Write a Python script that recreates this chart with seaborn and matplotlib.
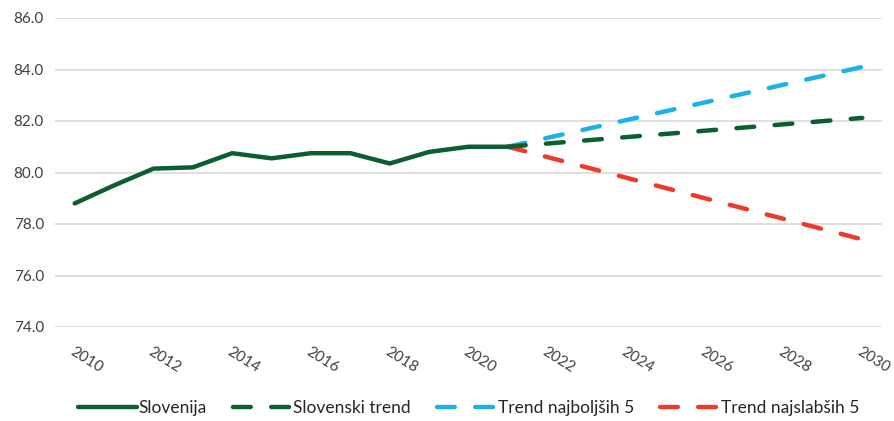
import pandas as pd
import matplotlib.pyplot as plt
import seaborn as sns

# Data
years = [2010, 2011, 2012, 2013, 2014, 2015, 2016, 2017, 2018, 2019, 2020, 2021]
slovenija = [78.8, 79.5, 80.15, 80.2, 80.75, 80.55, 80.75, 80.75, 80.35, 80.8, 81.0, 81.0]

trend_years = [2021, 2030]
slovenski_trend = [81.0, 82.12]
trend_best5 = [81.0, 84.1]
trend_worst5 = [81.0, 77.4]

GREEN = "#0B5E2E"
BLUE = "#1CB1E7"
RED = "#EE3A2B"

sns.set_style("white")
plt.rcParams["font.family"] = ["Lato", "DejaVu Sans"]

fig = plt.figure(figsize=(8.95, 4.21), dpi=100)
ax = fig.add_axes([55 / 895, (421 - 327) / 421, (882 - 55) / 895, (327 - 18) / 421])

lw = 3.2
sns.lineplot(x=years, y=slovenija, ax=ax, color=GREEN, linewidth=lw,
             label="Slovenija", solid_capstyle="round", zorder=3)
sns.lineplot(x=trend_years, y=slovenski_trend, ax=ax, color=GREEN, linewidth=lw,
             label="Slovenski trend", zorder=4)
sns.lineplot(x=trend_years, y=trend_best5, ax=ax, color=BLUE, linewidth=lw,
             label="Trend najboljših 5", zorder=2)
sns.lineplot(x=trend_years, y=trend_worst5, ax=ax, color=RED, linewidth=lw,
             label="Trend najslabših 5", zorder=2)

for line in ax.lines[1:]:
    line.set_dashes((4.0, 4.6))
    line.set_dash_capstyle("round")

ax.set_xlim(2009.5, 2030.5)
ax.set_ylim(74, 86)
ax.set_yticks([74, 76, 78, 80, 82, 84, 86])
ax.set_yticklabels([f"{v:.1f}" for v in [74, 76, 78, 80, 82, 84, 86]])
ax.set_xticks(list(range(2010, 2031, 2)))
ax.set_xticklabels([str(y) for y in range(2010, 2031, 2)], rotation=-32,
                   ha="left", rotation_mode="anchor")

ax.grid(axis="y", color="#D9D9D9", linewidth=1.2, zorder=0)
ax.grid(axis="x", visible=False)
for s in ax.spines.values():
    s.set_visible(False)
ax.tick_params(axis="both", length=0, labelsize=11, colors="#404040")
ax.tick_params(axis="x", pad=13)
ax.tick_params(axis="y", pad=8)
ax.set_axisbelow(True)

leg = ax.legend(loc="center", bbox_to_anchor=(0.5, -0.262), ncol=4, frameon=False,
                fontsize=12.5, handlelength=3.4, columnspacing=1.5, handletextpad=0.1)
for h in leg.get_lines():
    h.set_linewidth(lw)

fig.savefig("out.png", dpi=100)
